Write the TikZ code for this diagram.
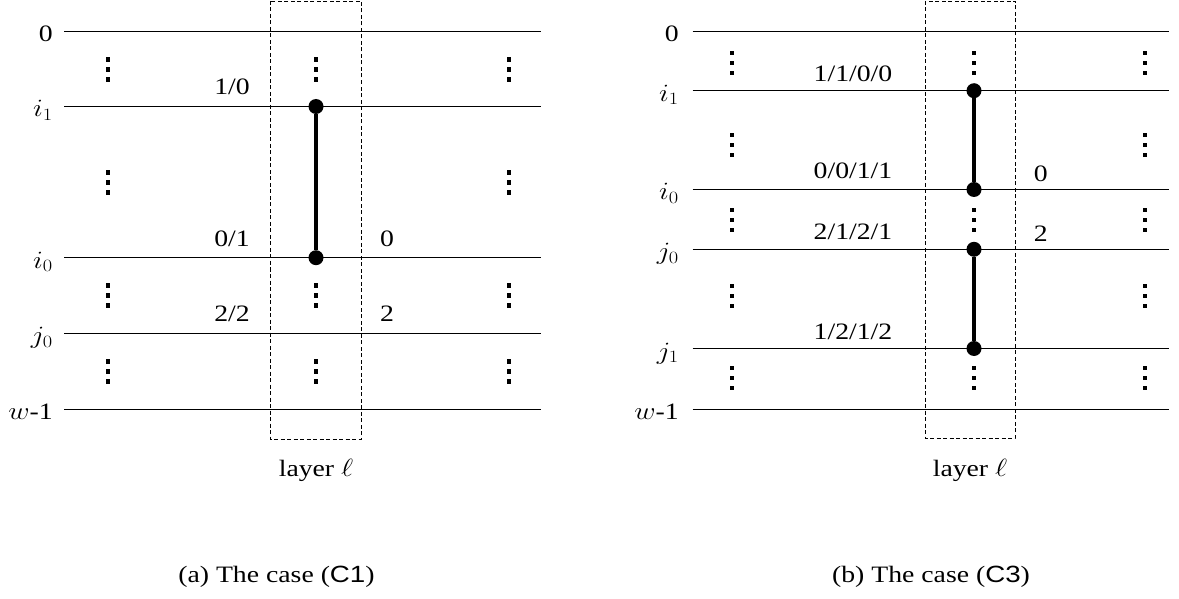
\documentclass[tikz,border=0pt]{standalone}
\usepackage{fontspec}
\setmainfont{Liberation Serif}
\setsansfont{Liberation Sans}
\newcommand\hstr[1]{\scalebox{1.18}[1]{#1}}
\tikzset{
  vd/.pic={\foreach \k in {-10,0,10} \fill (-2.2,\k-2.2) rectangle (2.2,\k+2.2);},
  wire/.style={line width=0.9pt},
  gatebar/.style={line width=3.2pt},
  ctrl/.style={circle,fill,inner sep=0pt,minimum size=15pt},
  layerbox/.style={draw,line width=0.7pt,dash pattern=on 4pt off 2.5pt},
  lbl/.style={font=\fontsize{23.5}{28}\selectfont,inner sep=0pt},
  wname/.style={lbl,anchor=base east},
  val/.style={lbl,anchor=base},
}
\begin{document}
\begin{tikzpicture}[x=1pt,y=-1pt]
\useasboundingbox (0,0) rectangle (1179,599);

% ---------- (a) ----------
\draw[layerbox] (270,1) rectangle (361,439);
\foreach \n/\y/\t in {z/31/0, a/106.5/{$i_1$}, b/257.7/{$i_0$}, c/333.3/{$j_0$}, d/409.3/{$w$-1}} {
  \node[wname] (AL\n) at (53,\y+10.5) {\hstr{\t}};
  \coordinate (AS\n) at (64,\y);
  \coordinate (AE\n) at (541,\y);
  \draw[wire] (AS\n) -- (AE\n);
}
\foreach \y in {69.5,182.5,295.5,371.5} {
  \pic at (108,\y) {vd};
  \pic at (509,\y) {vd};
}
\foreach \y in {69.5,295.5,371.5} \pic at (316,\y) {vd};
\node[ctrl] (A1) at (316,106.5) {};
\node[ctrl] (A2) at (316,257.7) {};
\draw[gatebar] (A1) -- (A2);
\node[val] (Av1) at (232,94.5) {\hstr{1/0}};
\node[val] (Av2) at (232,246.5) {\hstr{0/1}};
\node[val] (Av3) at (232,321) {\hstr{2/2}};
\node[val] (Aw1) at (387,246.5) {\hstr{0}};
\node[val] (Aw2) at (387,321.5) {\hstr{2}};
\node[val] (Alayer) at (316,476) {\hstr{layer $\ell$}};
\node[val] (Acap) at (276.5,582) {\hstr{(a) The case (\textsf{C1})}};

% ---------- (b) ----------
\draw[layerbox] (925,1) rectangle (1015,438);
\foreach \n/\y/\t in {z/31/0, a/90.7/{$i_1$}, b/189.5/{$i_0$}, c/249.3/{$j_0$}, d/348.5/{$j_1$}, e/409/{$w$-1}} {
  \node[wname] (BL\n) at (679,\y+10.5) {\hstr{\t}};
  \coordinate (BS\n) at (692.7,\y);
  \coordinate (BE\n) at (1169,\y);
  \draw[wire] (BS\n) -- (BE\n);
}
\foreach \y in {63,145,220,296,378} {
  \pic at (731.7,\y) {vd};
  \pic at (1145,\y) {vd};
}
\foreach \y in {63,220,378} \pic at (974,\y) {vd};
\node[ctrl] (B1) at (974,90.7) {};
\node[ctrl] (B2) at (974,189.5) {};
\node[ctrl] (B3) at (974,249.3) {};
\node[ctrl] (B4) at (974,348.5) {};
\draw[gatebar] (B1) -- (B2);
\draw[gatebar] (B3) -- (B4);
\node[val] (Bv1) at (853,81.7) {\hstr{1/1/0/0}};
\node[val] (Bv2) at (853,178.5) {\hstr{0/0/1/1}};
\node[val] (Bv3) at (853,240) {\hstr{2/1/2/1}};
\node[val] (Bv4) at (853,339.3) {\hstr{1/2/1/2}};
\node[val] (Bw1) at (1040.7,181.7) {\hstr{0}};
\node[val] (Bw2) at (1040.7,241.5) {\hstr{2}};
\node[val] (Blayer) at (970,476) {\hstr{layer $\ell$}};
\node[val] (Bcap) at (931,582) {\hstr{(b) The case (\textsf{C3})}};
\end{tikzpicture}
\end{document}
